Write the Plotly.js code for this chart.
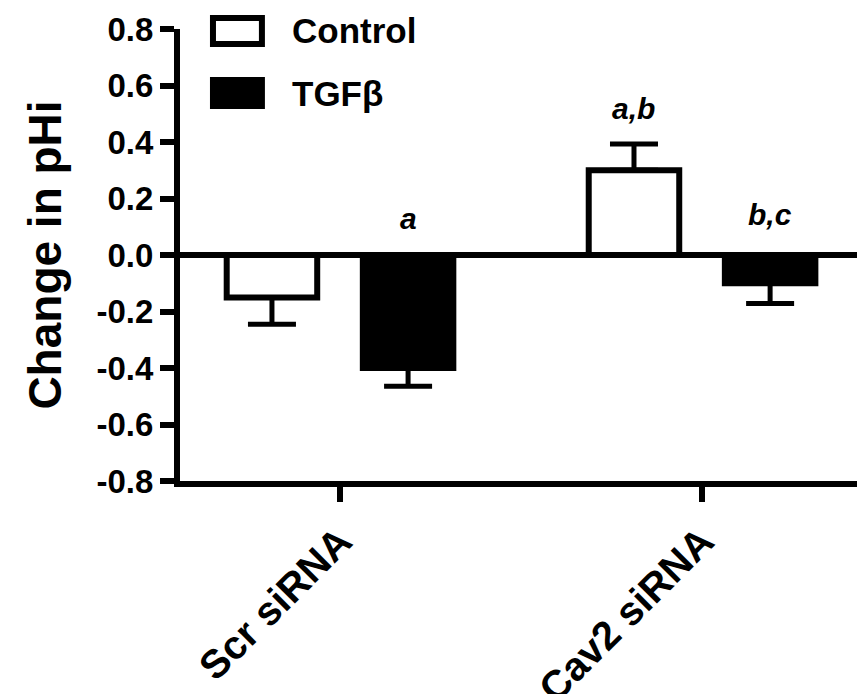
<!DOCTYPE html>
<html>
<head>
<meta charset="utf-8">
<script src="https://cdn.plot.ly/plotly-3.0.1.min.js"></script>
<style>html,body{margin:0;padding:0;background:#fff;}#chart{width:862px;height:694px;}</style>
</head>
<body>
<div id="chart"></div>
<script>
// ---- data ----
const categories = ["Scr siRNA", "Cav2 siRNA"];
const categoryPos = [0, 1];
const seriesNames = ["Control", "TGFβ"];
const controlValues = [-0.15, 0.30];
const controlErr = [0.095, 0.093];
const tgfValues = [-0.40, -0.10];
const tgfErr = [0.065, 0.072];
const sigLabels = ["", "a", "a,b", "b,c"];           // Scr-Control, Scr-TGFβ, Cav2-Control, Cav2-TGFβ
const sigLabelY = [0, 0.13, 0.52, 0.145];
const yTickVals = [-0.8, -0.6, -0.4, -0.2, 0.0, 0.2, 0.4, 0.6, 0.8];
const yTickText = ["-0.8", "-0.6", "-0.4", "-0.2", "0.0", "0.2", "0.4", "0.6", "0.8"];
const yTitle = "Change in pHi";

// ---- styling ----
const FONT = "Liberation Sans, Arial, Helvetica, sans-serif";
const barW = 0.25;
const ctrlOffset = -0.313;
const tgfOffset = 0.063;

function upErr(v, e) { return v.map((x, i) => x >= 0 ? e[i] : 0); }
function dnErr(v, e) { return v.map((x, i) => x < 0 ? e[i] : 0); }

const errStyle = { type: "data", symmetric: false, color: "#000", thickness: 5, width: 24 };

const traces = [
  {
    type: "bar", name: seriesNames[0], x: categoryPos, y: controlValues,
    width: barW, offset: ctrlOffset,
    marker: { color: "#ffffff", line: { color: "#000", width: 6 } },
    error_y: Object.assign({}, errStyle, { array: upErr(controlValues, controlErr), arrayminus: dnErr(controlValues, controlErr) }),
    showlegend: false, hoverinfo: "skip"
  },
  {
    type: "bar", name: seriesNames[1], x: categoryPos, y: tgfValues,
    width: barW, offset: tgfOffset,
    marker: { color: "#000000", line: { color: "#000", width: 6 } },
    error_y: Object.assign({}, errStyle, { array: upErr(tgfValues, tgfErr), arrayminus: dnErr(tgfValues, tgfErr) }),
    showlegend: false, hoverinfo: "skip"
  }
];

// significance letters placed over each bar via data coordinates
const barCenters = [];
categoryPos.forEach(p => { barCenters.push(p + ctrlOffset + barW / 2); barCenters.push(p + tgfOffset + barW / 2); });
const annotations = [];
sigLabels.forEach((t, i) => {
  if (!t) return;
  annotations.push({
    x: barCenters[i], y: sigLabelY[i], xref: "x", yref: "y", text: t, showarrow: false,
    font: { family: FONT, size: 30, color: "#000", weight: "bold", style: "italic" },
    xanchor: "center", yanchor: "middle"
  });
});

// manual legend (large swatches)
const legendY = [0.9956, 0.8584];
const legendFill = ["#ffffff", "#000000"];
const shapes = [];
seriesNames.forEach((n, i) => {
  shapes.push({
    type: "rect", xref: "paper", yref: "paper",
    x0: 0.0487, x1: 0.121, y0: legendY[i] - 0.0288, y1: legendY[i] + 0.0288,
    fillcolor: legendFill[i], line: { color: "#000", width: 6 }
  });
  annotations.push({
    x: 0.1625, y: legendY[i], xref: "paper", yref: "paper", text: n, showarrow: false,
    xanchor: "left", yanchor: "middle",
    font: { family: FONT, size: 35, color: "#000", weight: "bold" }
  });
});

const layout = {
  width: 862, height: 694,
  margin: { l: 180, r: 5, t: 29, b: 213 },
  paper_bgcolor: "#fff", plot_bgcolor: "#fff",
  barmode: "overlay",
  font: { family: FONT, color: "#000", weight: "bold" },
  xaxis: {
    range: [-0.442, 1.428], tickvals: categoryPos, ticktext: categories,
    tickangle: -45, tickfont: { family: FONT, size: 40, color: "#000", weight: "bold" },
    showline: true, linecolor: "#000", linewidth: 6,
    ticks: "outside", ticklen: 15, tickwidth: 6, tickcolor: "#000",
    showgrid: false, zeroline: false, fixedrange: true
  },
  yaxis: {
    range: [-0.8, 0.8], tickvals: yTickVals, ticktext: yTickText,
    tickfont: { family: FONT, size: 33, color: "#000", weight: "bold" },
    showline: true, linecolor: "#000", linewidth: 6,
    ticks: "outside", ticklen: 14, tickwidth: 6, tickcolor: "#000",
    showgrid: false, zeroline: true, zerolinecolor: "#000", zerolinewidth: 6,
    title: { text: yTitle, font: { family: FONT, size: 46, color: "#000", weight: "bold" }, standoff: 22 },
    fixedrange: true
  },
  shapes: shapes,
  annotations: annotations,
  showlegend: false
};

Plotly.newPlot("chart", traces, layout, { staticPlot: true, displayModeBar: false });
</script>
</body>
</html>
